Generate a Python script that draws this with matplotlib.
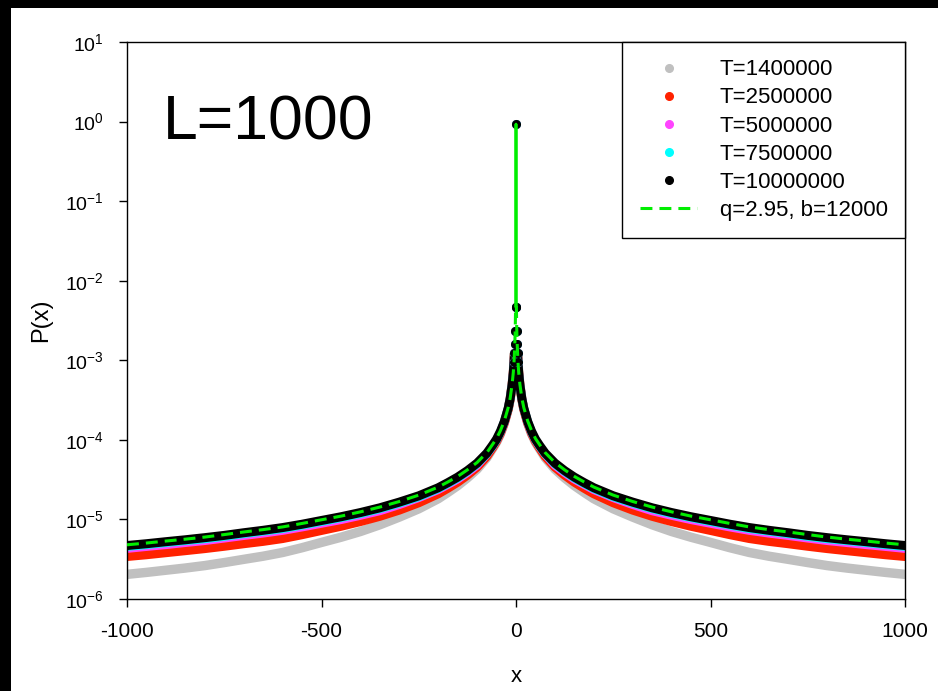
import numpy as np
import matplotlib
matplotlib.use("Agg")
import matplotlib.pyplot as plt
from matplotlib.patches import Rectangle

plt.rcParams["font.family"] = ["Liberation Sans", "DejaVu Sans"]
plt.rcParams["mathtext.default"] = "regular"

# P(x) sampled on the positive side, the distribution is symmetric in x
x_pos = [0, 1, 2, 3, 4, 5, 7, 10, 15, 20, 30, 40, 50, 60, 75, 100, 125, 150, 175, 200, 250,
         300, 350, 400, 450, 500, 550, 600, 650, 700, 750, 800, 850, 900, 950, 1000]

p_t1400000 = [0.93, 4.7e-3, 2.36e-3, 1.62e-3, 1.22e-3, 9.5e-4, 6.9e-4, 4.9e-4, 3.25e-4, 2.43e-4,
              1.63e-4, 1.19e-4, 9.35e-5, 7.8e-5, 5.97e-5, 4.29e-5, 3.33e-5, 2.66e-5, 2.19e-5, 1.82e-5,
              1.36e-5, 1.07e-5, 8.57e-6, 7.05e-6, 5.97e-6, 5.14e-6, 4.41e-6, 3.84e-6, 3.45e-6, 3.15e-6,
              2.87e-6, 2.63e-6, 2.45e-6, 2.3e-6, 2.16e-6, 2.04e-6]
p_t2500000 = [0.93, 4.7e-3, 2.36e-3, 1.62e-3, 1.22e-3, 9.5e-4, 6.9e-4, 4.9e-4, 3.25e-4, 2.43e-4,
              1.63e-4, 1.21e-4, 9.6e-5, 8.0e-5, 6.2e-5, 4.55e-5, 3.6e-5, 2.94e-5, 2.47e-5, 2.1e-5,
              1.62e-5, 1.31e-5, 1.095e-5, 9.4e-6, 8.2e-6, 7.27e-6, 6.43e-6, 5.75e-6, 5.3e-6, 4.95e-6,
              4.6e-6, 4.3e-6, 4.05e-6, 3.82e-6, 3.6e-6, 3.42e-6]
p_t5000000 = [0.93, 4.7e-3, 2.36e-3, 1.62e-3, 1.22e-3, 9.5e-4, 6.9e-4, 4.9e-4, 3.3e-4, 2.5e-4,
              1.65e-4, 1.24e-4, 9.9e-5, 8.3e-5, 6.6e-5, 4.8e-5, 3.87e-5, 3.2e-5, 2.74e-5, 2.36e-5,
              1.87e-5, 1.53e-5, 1.28e-5, 1.12e-5, 9.9e-6, 8.9e-6, 8.0e-6, 7.25e-6, 6.7e-6, 6.25e-6,
              5.8e-6, 5.4e-6, 5.1e-6, 4.8e-6, 4.55e-6, 4.3e-6]
p_t7500000 = [0.93, 4.7e-3, 2.36e-3, 1.62e-3, 1.22e-3, 9.5e-4, 6.9e-4, 4.9e-4, 3.3e-4, 2.5e-4,
              1.7e-4, 1.26e-4, 1.0e-4, 8.4e-5, 6.65e-5, 4.97e-5, 4.0e-5, 3.3e-5, 2.82e-5, 2.43e-5,
              1.92e-5, 1.6e-5, 1.36e-5, 1.18e-5, 1.05e-5, 9.4e-6, 8.45e-6, 7.65e-6, 7.1e-6, 6.6e-6,
              6.1e-6, 5.7e-6, 5.4e-6, 5.1e-6, 4.8e-6, 4.56e-6]
p_t10000000 = [0.93, 4.7e-3, 2.36e-3, 1.62e-3, 1.22e-3, 9.5e-4, 6.9e-4, 4.9e-4, 3.3e-4, 2.5e-4,
               1.7e-4, 1.28e-4, 1.02e-4, 8.6e-5, 6.8e-5, 5.1e-5, 4.1e-5, 3.4e-5, 2.9e-5, 2.5e-5,
               1.98e-5, 1.65e-5, 1.4e-5, 1.22e-5, 1.08e-5, 9.7e-6, 8.7e-6, 7.9e-6, 7.3e-6, 6.8e-6,
               6.3e-6, 5.9e-6, 5.55e-6, 5.25e-6, 4.95e-6, 4.7e-6]
p_fit = [0.93, 4.8e-3, 2.4e-3, 1.65e-3, 1.25e-3, 9.7e-4, 7.0e-4, 5.0e-4, 3.35e-4, 2.55e-4,
         1.73e-4, 1.31e-4, 1.04e-4, 8.8e-5, 6.9e-5, 5.2e-5, 4.2e-5, 3.47e-5, 2.96e-5, 2.55e-5,
         2.02e-5, 1.68e-5, 1.43e-5, 1.245e-5, 1.1e-5, 9.9e-6, 8.9e-6, 8.05e-6, 7.45e-6, 6.95e-6,
         6.45e-6, 6.0e-6, 5.65e-6, 5.35e-6, 5.05e-6, 4.8e-6]

labels = ["T=1400000", "T=2500000", "T=5000000", "T=7500000", "T=10000000"]
colors = ["#c0c0c0", "#ff2200", "#ff44ff", "#00ffff", "#000000"]
widths = [6.8, 6.5, 6.2, 6.2, 6.5]
fit_label = "q=2.95, b=12000"


def mirror(vals):
    v = np.asarray(vals, dtype=float)
    return np.concatenate([v[:0:-1], v])


xp = np.asarray(x_pos, dtype=float)
x = np.concatenate([-xp[:0:-1], xp])
series = [mirror(s) for s in (p_t1400000, p_t2500000, p_t5000000, p_t7500000, p_t10000000)]

fig = plt.figure(figsize=(9.38, 6.91), dpi=100)
fig.patch.set_facecolor("black")
fig.add_artist(Rectangle((11 / 938, 0), 1, 1 - 8 / 691, transform=fig.transFigure,
                         facecolor="white", edgecolor="none", zorder=-5))

ax = fig.add_axes([127 / 938, 1 - 599 / 691, 778 / 938, 557 / 691])
ax.set_facecolor("white")

left = x <= -4
right = x >= 4
centre = np.abs(x) <= 5
for y, c, w, lab in zip(series, colors, widths, labels):
    for m in (left, right):
        ax.plot(x[m], y[m], "-", color=c, lw=w, solid_capstyle="round",
                solid_joinstyle="round", zorder=2)
    ax.plot(x[centre], y[centre], "o", color=c, ms=5.5, mec=c, label=lab, zorder=3)

fit = mirror(p_fit)
mid = np.abs(x) <= 1
ax.plot(x[mid], fit[mid], "-", color="#00ee00", lw=2.0, zorder=4)
ax.plot(x[x <= -1], fit[x <= -1], color="#00ee00", lw=2.2, dashes=(3.9, 2.3), zorder=4)
ax.plot(x[x >= 1], fit[x >= 1], color="#00ee00", lw=2.2, dashes=(3.9, 2.3), zorder=4,
        label=fit_label)

ax.set_yscale("log")
ax.set_xlim(-1000, 1000)
ax.set_ylim(1e-6, 1e1)
ax.set_xticks([-1000, -500, 0, 500, 1000])
ax.set_xticklabels(["-1000", "-500", "0", "500", "1000"])
ax.set_yticks([10.0 ** k for k in range(-6, 2)])
ax.set_yticklabels([r"$10^{%d}$" % k for k in range(-6, 2)])
ax.yaxis.set_minor_locator(matplotlib.ticker.NullLocator())
ax.tick_params(axis="both", direction="out", length=5.8, width=1.0, colors="black")
ax.tick_params(axis="x", labelsize=15, pad=11)
ax.tick_params(axis="y", labelsize=14, pad=11)
for s in ax.spines.values():
    s.set_linewidth(1.0)

ax.set_xlabel("x", fontsize=16, labelpad=18)
ax.set_ylabel("P(x)", fontsize=17, labelpad=9)

fig.text(163 / 938, 1 - 140 / 691, "L=1000", fontsize=45, ha="left", va="baseline")

leg = ax.legend(loc="upper right", borderaxespad=0, fontsize=16, frameon=True, fancybox=False,
                framealpha=1, edgecolor="black", handlelength=2.6, handletextpad=1.0,
                borderpad=0.78, labelspacing=0.32, markerscale=1.0)
leg.get_frame().set_linewidth(1.0)

fig.savefig("out.png", dpi=100, facecolor=fig.get_facecolor())
